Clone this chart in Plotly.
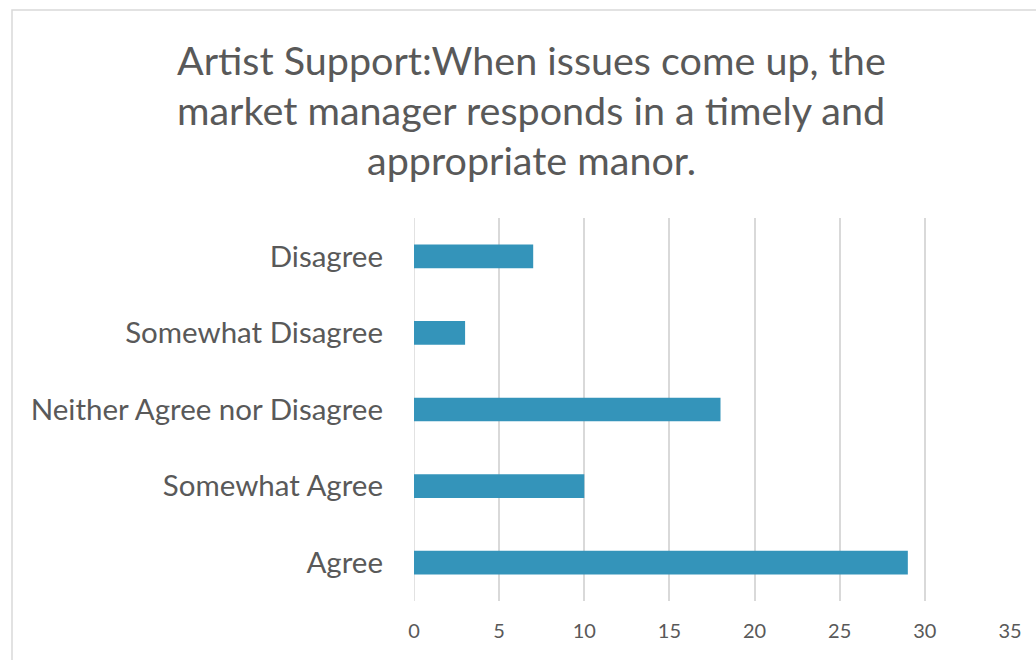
import plotly.graph_objects as go

categories = ["Agree", "Somewhat Agree", "Neither Agree nor Disagree", "Somewhat Disagree", "Disagree"]
values = [29, 10, 18, 3, 7]
x_ticks = [0, 5, 10, 15, 20, 25, 30, 35]
title_lines = ["Artist Support:When issues come up, the",
               "market manager responds in a timely and",
               "appropriate manor."]

FONT = "Lato"
GRAY = "#595959"

fig = go.Figure(go.Bar(
    y=categories, x=values, orientation="h",
    marker=dict(color="#3494BA", line=dict(width=0)),
    width=0.31,
))

fig.update_layout(
    width=1036, height=660,
    margin=dict(l=414, r=26, t=218, b=59),
    paper_bgcolor="white", plot_bgcolor="white",
    showlegend=False,
    font=dict(family=FONT, color=GRAY),
    xaxis=dict(range=[0, 35], tickvals=x_ticks, showgrid=True, gridcolor="#d9d9d9",
               gridwidth=1.5, zeroline=False, showline=False,
               tickfont=dict(size=20, color=GRAY), ticks="", ticklabelstandoff=16),
    yaxis=dict(range=[-0.5, 4.5], showgrid=False, zeroline=False, showline=False,
               tickfont=dict(size=29.5, color=GRAY), ticks="", ticklabelstandoff=30),
)

fig.add_shape(type="line", xref="x", yref="paper", x0=0, x1=0, y0=0, y1=1,
              line=dict(color="#d9d9d9", width=1.5), layer="below")

for i, line in enumerate(title_lines):
    fig.add_annotation(text=line, xref="paper", yref="paper",
                       x=(531 - 414) / 596, y=(601 - (60 + 50 * i)) / 383,
                       xanchor="center", yanchor="middle", showarrow=False,
                       font=dict(size=39.5, color=GRAY, family=FONT))

fig.add_shape(type="rect", xref="paper", yref="paper",
              x0=(12 - 414) / 596, x1=(1045 - 414) / 596,
              y0=(601 - 670) / 383, y1=(601 - 10) / 383,
              line=dict(color="#d9d9d9", width=1.5), fillcolor="rgba(0,0,0,0)")

fig.write_html("out.html", config={"displayModeBar": False},
               post_script="document.body.style.margin='0';document.body.style.overflow='hidden';")
